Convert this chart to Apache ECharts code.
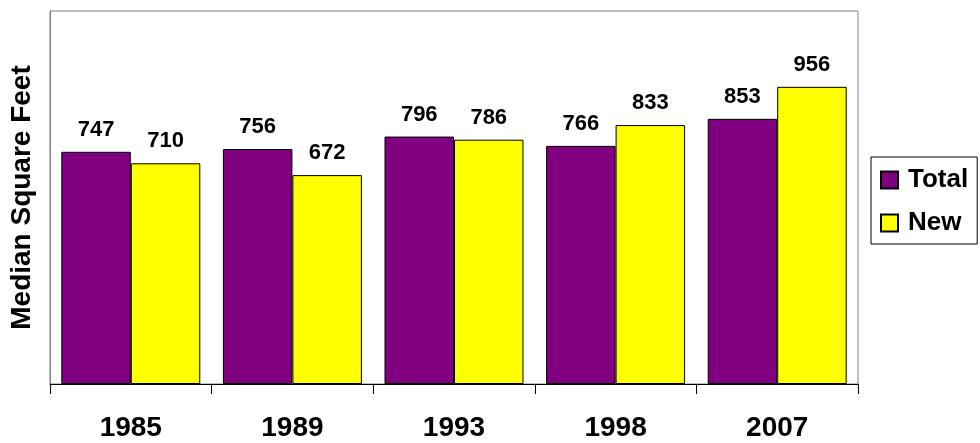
<!DOCTYPE html>
<html><head><meta charset="utf-8">
<script src="https://cdn.jsdelivr.net/npm/echarts@6/dist/echarts.min.js"></script>
<style>html,body{margin:0;padding:0;background:#fff}#c{width:980px;height:443px}</style>
</head><body><div id="c"></div>
<script>
const categories = ['1985', '1989', '1993', '1998', '2007'];
const totalValues = [747, 756, 796, 766, 853];
const newValues = [710, 672, 786, 833, 956];
const seriesNames = ['Total', 'New'];
const yTitle = 'Median Square Feet';

const FONT = 'Arial, "Liberation Sans", sans-serif';
const chart = echarts.init(document.getElementById('c'));
const labelCfg = {show: true, position: 'top', distance: 11, color: '#000', fontFamily: FONT, fontWeight: 'bold', fontSize: 22};
chart.setOption({
  animation: false,
  grid: {left: 50, right: 122, top: 11, bottom: 59, show: true, borderColor: '#808080', borderWidth: 1,
         containLabel: false, outerBoundsMode: 'none'},
  legend: {
    orient: 'vertical', left: 871, top: 157,
    data: seriesNames,
    icon: 'rect', itemWidth: 17, itemHeight: 17, itemGap: 17,
    borderColor: '#000', borderWidth: 1, padding: [10, 9, 8, 9],
    textStyle: {fontFamily: FONT, fontWeight: 'bold', fontSize: 26, lineHeight: 24, color: '#000', padding: [0, 0, 0, 5]}
  },
  xAxis: {
    type: 'category', data: categories,
    axisLine: {lineStyle: {color: '#000', width: 1}},
    axisTick: {show: true, length: 10, lineStyle: {color: '#000'}},
    axisLabel: {fontFamily: FONT, fontWeight: 'bold', fontSize: 28, color: '#000', margin: 30}
  },
  yAxis: {
    type: 'value', min: 0, max: 1200, interval: 200,
    name: yTitle, nameLocation: 'middle', nameRotate: 90, nameGap: 14,
    nameTextStyle: {fontFamily: FONT, fontWeight: 'bold', fontSize: 28, color: '#000'},
    axisLine: {show: true, lineStyle: {color: '#808080'}},
    axisTick: {show: false}, axisLabel: {show: false}, splitLine: {show: false}
  },
  series: [
    {name: seriesNames[0], type: 'bar', data: totalValues, barGap: 0, barCategoryGap: '14%',
     itemStyle: {color: '#800080', borderColor: '#000', borderWidth: 1}, label: labelCfg},
    {name: seriesNames[1], type: 'bar', data: newValues, barGap: 0, barCategoryGap: '14%',
     itemStyle: {color: '#FFFF00', borderColor: '#000', borderWidth: 1}, label: labelCfg}
  ]
});
</script></body></html>
